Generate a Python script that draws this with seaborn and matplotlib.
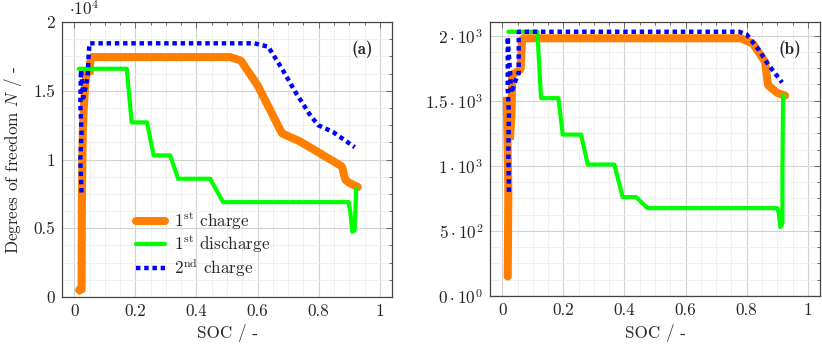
import matplotlib
matplotlib.use("Agg")
import matplotlib.pyplot as plt
import seaborn as sns
from matplotlib.ticker import MultipleLocator

# ---- data ----
# panel (a)
soc_c1_a = [0.016, 0.024, 0.025, 0.028, 0.032, 0.036, 0.04, 0.045, 0.05, 0.052, 0.056,
            0.51, 0.545, 0.60, 0.68, 0.74, 0.876, 0.887, 0.90, 0.928]
n_c1_a = [500, 400, 7000, 12000, 14000, 15500, 16200, 16500, 16200, 17000, 17450,
          17450, 17200, 15400, 11900, 11300, 9500, 8550, 8300, 8000]

soc_d1_a = [0.015, 0.172, 0.188, 0.238, 0.26, 0.314, 0.34, 0.445, 0.487,
            0.898, 0.904, 0.91, 0.918, 0.923]
n_d1_a = [16600, 16600, 12700, 12700, 10300, 10300, 8600, 8600, 6900,
          6900, 6100, 4750, 4850, 7900]

soc_c2_a = [0.024, 0.02, 0.024, 0.02, 0.022, 0.03, 0.044, 0.047, 0.05,
            0.59, 0.635, 0.68, 0.724, 0.77, 0.798, 0.847, 0.918]
n_c2_a = [7600, 10000, 12000, 14000, 16500, 14500, 16000, 17500, 18450,
          18450, 18200, 16600, 14900, 13300, 12500, 12000, 10900]

# panel (b)
soc_c1_b = [0.018, 0.02, 0.015, 0.025, 0.03, 0.033, 0.06, 0.065,
            0.78, 0.82, 0.86, 0.87, 0.90, 0.926]
n_c1_b = [150, 800, 1530, 1200, 1380, 1700, 1740, 1980,
          1980, 1940, 1800, 1620, 1560, 1540]

soc_d1_b = [0.02, 0.115, 0.127, 0.184, 0.198, 0.258, 0.28, 0.367, 0.394, 0.438, 0.476,
            0.90, 0.905, 0.91, 0.917, 0.917, 0.919]
n_d1_b = [2030, 2030, 1520, 1520, 1240, 1240, 1010, 1010, 760, 760, 675,
          675, 640, 530, 560, 900, 1540]

soc_c2_b = [0.022, 0.02, 0.022, 0.018, 0.018, 0.03, 0.05, 0.054, 0.054,
            0.775, 0.80, 0.84, 0.87, 0.916]
n_c2_b = [800, 1100, 1400, 1600, 1990, 1560, 1700, 1710, 2030,
          2030, 2010, 1890, 1780, 1640]

labels = [r"1$^{\mathrm{st}}$ charge", r"1$^{\mathrm{st}}$ discharge", r"2$^{\mathrm{nd}}$ charge"]
xticks = [0, 0.2, 0.4, 0.6, 0.8, 1]
xticklabels = ["0", "0.2", "0.4", "0.6", "0.8", "1"]
yticks_a = [0, 5000, 10000, 15000, 20000]
yticklabels_a = ["0", "0.5", "1", "1.5", "2"]
yticks_b = [0, 500, 1000, 1500, 2000]
yticklabels_b = [r"$0\cdot10^{0}$", r"$5\cdot10^{2}$", r"$1\cdot10^{3}$",
                 r"$1.5\cdot10^{3}$", r"$2\cdot10^{3}$"]

ORANGE = "#ff7f00"
GREEN = "#00ff00"
BLUE = "#0000ff"
FS = 12.3

sns.set_theme(style="white")
plt.rcParams["font.family"] = ["cmr10", "DejaVu Serif"]
plt.rcParams["mathtext.fontset"] = "cm"
plt.rcParams["axes.formatter.use_mathtext"] = True
plt.rcParams["axes.unicode_minus"] = False

fig = plt.figure(figsize=(8.22, 3.48), dpi=100)
W, H = 822, 348
ax_a = fig.add_axes([62 / W, (H - 297) / H, 330 / W, 275 / H])
ax_b = fig.add_axes([490 / W, (H - 296) / H, 330 / W, 274 / H])


def draw(ax, c1, d1, c2, with_label):
    kw = dict(sort=False, estimator=None, ax=ax, legend=False)
    sns.lineplot(x=c1[0], y=c1[1], color=ORANGE, lw=5.8, solid_joinstyle="bevel",
                 label=labels[0] if with_label else None, **kw)
    sns.lineplot(x=d1[0], y=d1[1], color=GREEN, lw=3.0, solid_joinstyle="round",
                 label=labels[1] if with_label else None, **kw)
    sns.lineplot(x=c2[0], y=c2[1], color=BLUE, lw=3.2, linestyle=(0, (1, 0.85)),
                 dash_capstyle="butt",
                 label=labels[2] if with_label else None, **kw)


def style(ax, yticks, yticklabels, ylim, yminor):
    ax.set_xlim(-0.04, 1.04)
    ax.set_ylim(*ylim)
    ax.set_xticks(xticks)
    ax.set_xticklabels(xticklabels)
    ax.set_yticks(yticks)
    ax.set_yticklabels(yticklabels)
    ax.xaxis.set_minor_locator(MultipleLocator(0.05))
    ax.yaxis.set_minor_locator(MultipleLocator(yminor))
    ax.grid(which="major", color="#d2d2d2", lw=0.8)
    ax.grid(which="minor", color="#eeeeee", lw=0.6)
    ax.set_axisbelow(True)
    ax.tick_params(which="both", direction="in", top=True, right=True,
                   color="#555555", width=0.6, labelsize=FS, pad=5)
    ax.tick_params(which="major", length=4)
    ax.tick_params(which="minor", length=2)
    for sp in ax.spines.values():
        sp.set_color("#444444")
        sp.set_linewidth(0.9)
    ax.set_xlabel("SOC / -", fontsize=FS)


draw(ax_a, (soc_c1_a, n_c1_a), (soc_d1_a, n_d1_a), (soc_c2_a, n_c2_a), True)
draw(ax_b, (soc_c1_b, n_c1_b), (soc_d1_b, n_d1_b), (soc_c2_b, n_c2_b), False)

style(ax_a, yticks_a, yticklabels_a, (0, 20000), 1250)
style(ax_b, yticks_b, yticklabels_b, (0, 2105), 125)

ax_a.set_ylabel("Degrees of freedom $N$ / -", fontsize=FS)
ax_a.yaxis.set_label_coords(-0.115, 0.5)
ax_a.xaxis.set_label_coords(0.5, -0.1)
ax_b.xaxis.set_label_coords(0.5, -0.104)

fig.text(69 / W, 1 - 9 / H, r"$\cdot10^{4}$", fontsize=FS, va="center", ha="left")

ax_a.text(0.91, 0.9, "(a)", family="cmb10", transform=ax_a.transAxes, fontsize=FS,
          ha="center", va="center")
ax_b.text(0.91, 0.9, "(b)", family="cmb10", transform=ax_b.transAxes, fontsize=FS,
          ha="center", va="center")

ax_a.legend(loc="center left", bbox_to_anchor=(0.225, 0.19), frameon=False,
            fontsize=FS, handlelength=1.7, handletextpad=0.5, labelspacing=0.1,
            borderpad=0, borderaxespad=0)

fig.savefig("out.png", dpi=100)
